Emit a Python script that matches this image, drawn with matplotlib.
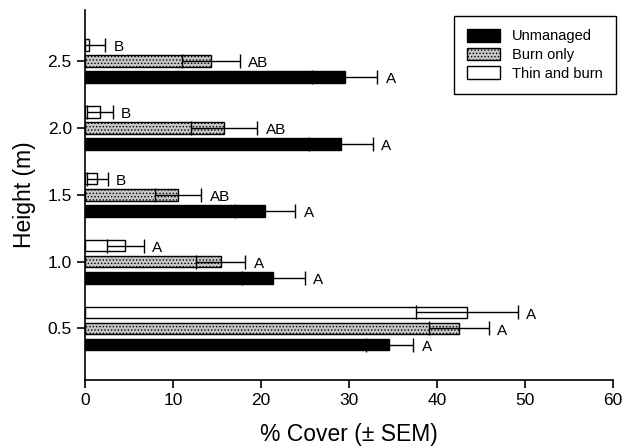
import matplotlib
matplotlib.use("Agg")
import matplotlib.pyplot as plt
import numpy as np

plt.rcParams['font.family'] = ['Liberation Sans', 'DejaVu Sans']
plt.rcParams['hatch.color'] = '#737373'
plt.rcParams['hatch.linewidth'] = 0.6

heights = [0.5, 1.0, 1.5, 2.0, 2.5]
series = ["Unmanaged", "Burn only", "Thin and burn"]

unmanaged = [34.6, 21.4, 20.5, 29.1, 29.5]
unmanaged_sem = [2.7, 3.6, 3.4, 3.6, 3.7]
burn_only = [42.5, 15.4, 10.6, 15.8, 14.3]
burn_only_sem = [3.4, 2.8, 2.6, 3.8, 3.3]
thin_burn = [43.4, 4.6, 1.4, 1.7, 0.45]
thin_burn_sem = [5.8, 2.1, 1.2, 1.45, 1.85]

letters_unmanaged = ["A", "A", "A", "A", "A"]
letters_burn = ["A", "A", "AB", "AB", "AB"]
letters_thin = ["A", "A", "B", "B", "B"]

fig = plt.figure(figsize=(6.33, 4.48), dpi=100)
ax = fig.add_axes([85/633, 1-380/448, (613-85)/633, (380-10)/448])

y = np.array(heights)
off = 0.12
h = 0.088

styles = [
    dict(color='black', edgecolor='black'),
    dict(color='#c6c6c6', edgecolor='black', hatch='.....'),
    dict(color='white', edgecolor='black'),
]
data = [(unmanaged, unmanaged_sem, letters_unmanaged),
        (burn_only, burn_only_sem, letters_burn),
        (thin_burn, thin_burn_sem, letters_thin)]
offsets = [-off, 0, off]

for (vals, sems, lets), st, o, name in zip(data, styles, offsets, series):
    ax.barh(y + o, vals, height=h, linewidth=1.0, label=name, zorder=2, **st)
    ax.errorbar(vals, y + o, xerr=sems, fmt='none', ecolor='black',
                elinewidth=1.0, capsize=5, capthick=1.0, zorder=3)
    for v, s, yy, l in zip(vals, sems, y + o, lets):
        ax.annotate(l, (v + s, yy), xytext=(6, -1.5), textcoords='offset points',
                    ha='left', va='center', fontsize=11)

ax.set_xlim(0, 60)
ax.set_ylim(0.115, 2.88)
ax.set_xticks([0, 10, 20, 30, 40, 50, 60])
ax.set_yticks(heights)
ax.set_yticklabels(["0.5", "1.0", "1.5", "2.0", "2.5"])
ax.tick_params(axis='both', direction='out', length=6, width=1.2, labelsize=12.5)
for s in ['top', 'right']:
    ax.spines[s].set_visible(False)
for s in ['left', 'bottom']:
    ax.spines[s].set_linewidth(1.2)

ax.set_xlabel("% Cover (± SEM)", fontsize=16.5, labelpad=11)
ax.set_ylabel("Height (m)", fontsize=16.5, labelpad=8)

leg = ax.legend(loc='upper right', bbox_to_anchor=(616/633, 1-16/448),
                bbox_transform=fig.transFigure, fontsize=10.5, frameon=True,
                fancybox=False, edgecolor='black', framealpha=1,
                handlelength=2.3, handleheight=0.95, borderpad=0.9,
                borderaxespad=0, labelspacing=0.3, handletextpad=0.8)
leg.get_frame().set_linewidth(1.0)

fig.savefig("out.png", dpi=100)
